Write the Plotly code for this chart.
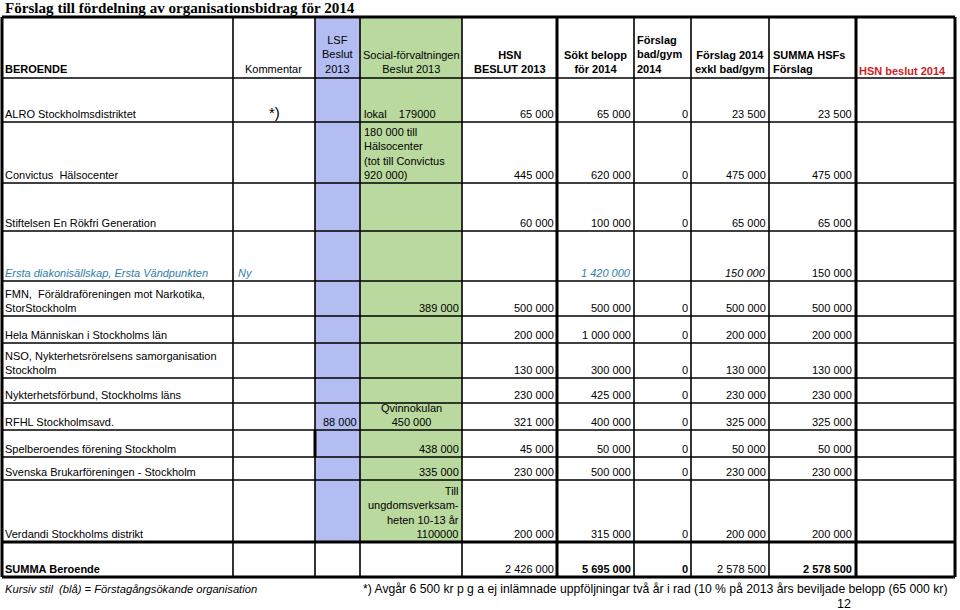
import plotly.graph_objects as go

# ---- data ----
title = "Förslag till fördelning av organisationsbidrag för 2014"

headers = [
    "<b>BEROENDE</b>", "Kommentar", "LSF<br>Beslut<br>2013",
    "Social-förvaltningen<br>Beslut 2013", "<b>HSN<br>BESLUT 2013</b>",
    "<b>Sökt belopp<br>för 2014</b>", "<b>Förslag<br>bad/gym<br>2014</b>",
    "<b>Förslag 2014<br>exkl bad/gym</b>", "<b>SUMMA HSFs<br>Förslag</b>",
    "<b>HSN beslut 2014</b>",
]

organisations = [
    "ALRO Stockholmsdistriktet",
    "Convictus  Hälsocenter",
    "Stiftelsen En Rökfri Generation",
    "Ersta diakonisällskap, Ersta Vändpunkten",
    "FMN,  Föräldraföreningen mot Narkotika,<br>StorStockholm",
    "Hela Människan i Stockholms län",
    "NSO, Nykterhetsrörelsens samorganisation<br>Stockholm",
    "Nykterhetsförbund, Stockholms läns",
    "RFHL Stockholmsavd.",
    "Spelberoendes förening Stockholm",
    "Svenska Brukarföreningen - Stockholm",
    "Verdandi Stockholms distrikt",
]
kommentar = ["*)", "", "", "Ny", "", "", "", "", "", "", "", ""]
first_time = [False, False, False, True, False, False, False, False, False, False, False, False]
lsf_2013 = [None, None, None, None, None, None, None, None, 88000, None, None, None]
social_2013 = [
    "lokal    179000",
    "180 000 till<br>Hälsocenter<br>(tot till Convictus<br>920 000)",
    "", "", "389 000", "", "", "",
    "Qvinnokulan<br>450 000", "438 000", "335 000",
    "Till<br>ungdomsverksam-<br>heten 10-13 år<br>1100000",
]
hsn_2013 = [65000, 445000, 60000, None, 500000, 200000, 130000, 230000, 321000, 45000, 230000, 200000]
sokt_2014 = [65000, 620000, 100000, 1420000, 500000, 1000000, 300000, 425000, 400000, 50000, 500000, 315000]
badgym_2014 = [0, 0, 0, None, 0, 0, 0, 0, 0, 0, 0, 0]
forslag_2014 = [23500, 475000, 65000, 150000, 500000, 200000, 130000, 230000, 325000, 50000, 230000, 200000]
summa_hsf = [23500, 475000, 65000, 150000, 500000, 200000, 130000, 230000, 325000, 50000, 230000, 200000]
total_label = "SUMMA Beroende"

note_left = "Kursiv stil  (blå) = Förstagångsökande organisation"
note_right = ("*) Avgår 6 500 kr p g a ej inlämnade uppföljningar två år i rad "
              "(10 % på 2013 års beviljade belopp (65 000 kr)")
page_no = "12"

# ---- layout / style ----
col_edges = [2, 233, 315, 360, 462, 557, 634, 691, 769, 856, 955]
row_edges = [17, 78, 122, 183, 231, 281, 316, 343, 378, 403, 430, 457, 480, 542, 577]
thick_cols = [2, 557, 856, 955]
social_align = ["left", "left", "right", "right", "right", "right", "right", "right",
                "center", "right", "right", "right"]

FONT = "Liberation Sans, Arial, sans-serif"
BLUE = "#2e7eab"
RED = "#d01c1f"
LSF_FILL = "#b3bdf1"
SOC_FILL = "#bad99e"


def fmt(v):
    return "" if v is None else f"{v:,}".replace(",", " ")


fig = go.Figure()
fig.add_trace(go.Scatter(x=[0], y=[0], mode="markers", marker_opacity=0,
                         hoverinfo="skip", showlegend=False))

shapes = []
ann = []


def line(x0, y0, x1, y1, w):
    shapes.append(dict(type="line", xref="x", yref="y", x0=x0, y0=y0, x1=x1, y1=y1,
                       line=dict(color="black", width=w)))


def text(x, y, s, xa="left", ya="bottom", size=11, color="black", italic=False):
    ann.append(dict(x=x, y=y, xref="x", yref="y", text=s, showarrow=False,
                    xanchor=xa, yanchor=ya, align=xa,
                    font=dict(family=FONT, size=size, color=color,
                              style="italic" if italic else "normal"),
                    borderpad=0))


# coloured columns
top, sum_top, bottom = row_edges[0], row_edges[-2], row_edges[-1]
shapes.append(dict(type="rect", xref="x", yref="y", x0=col_edges[2], x1=col_edges[3],
                   y0=top, y1=sum_top, fillcolor=LSF_FILL, line_width=0, layer="below"))
shapes.append(dict(type="rect", xref="x", yref="y", x0=col_edges[3], x1=col_edges[4],
                   y0=top, y1=sum_top, fillcolor=SOC_FILL, line_width=0, layer="below"))

# grid
for y in row_edges:
    w = 3 if y in (top, sum_top, bottom) else 1.6
    line(col_edges[0], y, col_edges[-1], y, w)
for x in col_edges:
    line(x, top, x, bottom, 3 if x in thick_cols else 1.6)
line(col_edges[2], row_edges[10], col_edges[2], row_edges[11], 3)

# title
text(4, 8, f"<b>{title}</b>", ya="middle", size=15.1)
ann[-1]["font"]["family"] = "Liberation Serif, Times New Roman, serif"

# header
hb = row_edges[1] - 2
text(4, hb, headers[0])
text(col_edges[2] - 12, hb, headers[1], xa="right")
text((col_edges[2] + col_edges[3]) / 2, hb, headers[2], xa="center")
text((col_edges[3] + col_edges[4]) / 2, hb, headers[3], xa="center")
text((col_edges[4] + col_edges[5]) / 2, hb, headers[4], xa="center")
text((col_edges[5] + col_edges[6]) / 2, hb, headers[5], xa="center")
text(col_edges[6] + 2, hb, headers[6])
text((col_edges[7] + col_edges[8]) / 2, hb, headers[7], xa="center")
text(col_edges[8] + 3, hb, headers[8])
text(col_edges[9] + 2, hb + 2, headers[9], color=RED)

# body rows
for i, name in enumerate(organisations):
    yb = row_edges[i + 2] - 1
    blue = first_time[i]
    text(4, yb, name, color=BLUE if blue else "black", italic=blue)
    if kommentar[i] == "*)":
        text(274, yb + 1, kommentar[i], xa="center", size=15)
    elif kommentar[i]:
        text(col_edges[1] + 4, yb, kommentar[i], color=BLUE, italic=blue)
    text(col_edges[3] - 2, yb, fmt(lsf_2013[i]), xa="right")
    sa = social_align[i]
    sx = {"left": col_edges[3] + 3, "right": col_edges[4] - 2,
          "center": (col_edges[3] + col_edges[4]) / 2}[sa]
    text(sx, yb, social_2013[i], xa=sa)
    text(col_edges[5] - 2, yb, fmt(hsn_2013[i]), xa="right")
    text(col_edges[6] - 2, yb, fmt(sokt_2014[i]), xa="right",
         color=BLUE if blue else "black", italic=blue)
    text(col_edges[7] - 2, yb, fmt(badgym_2014[i]), xa="right")
    text(col_edges[8] - 2, yb, fmt(forslag_2014[i]), xa="right", italic=blue)
    text(col_edges[9] - 3, yb, fmt(summa_hsf[i]), xa="right")


def total(vals):
    return sum(v for v in vals if v is not None)


# sum row
yb = bottom - 1
text(4, yb, f"<b>{total_label}</b>")
text(col_edges[5] - 2, yb, fmt(total(hsn_2013)), xa="right")
text(col_edges[6] - 2, yb, f"<b>{fmt(total(sokt_2014))}</b>", xa="right")
text(col_edges[7] - 2, yb, f"<b>{fmt(total(badgym_2014))}</b>", xa="right")
text(col_edges[8] - 2, yb, fmt(total(forslag_2014)), xa="right")
text(col_edges[9] - 3, yb, f"<b>{fmt(total(summa_hsf))}</b>", xa="right")

# footnotes
text(4, 589, note_left, ya="middle", size=11.2, italic=True)
text(362, 589, note_right, ya="middle", size=12.2)
text(844, 604, page_no, xa="center", ya="middle", size=12.5)

fig.update_layout(
    width=960, height=610,
    margin=dict(l=0, r=0, t=0, b=0),
    paper_bgcolor="white", plot_bgcolor="white",
    xaxis=dict(range=[0, 960], visible=False, fixedrange=True),
    yaxis=dict(range=[610, 0], visible=False, fixedrange=True),
    shapes=shapes, annotations=ann,
    showlegend=False,
)
fig.write_html("out.html", config={"displayModeBar": False},
               post_script="document.body.style.margin='0';"
                           "document.body.style.overflow='hidden';")
